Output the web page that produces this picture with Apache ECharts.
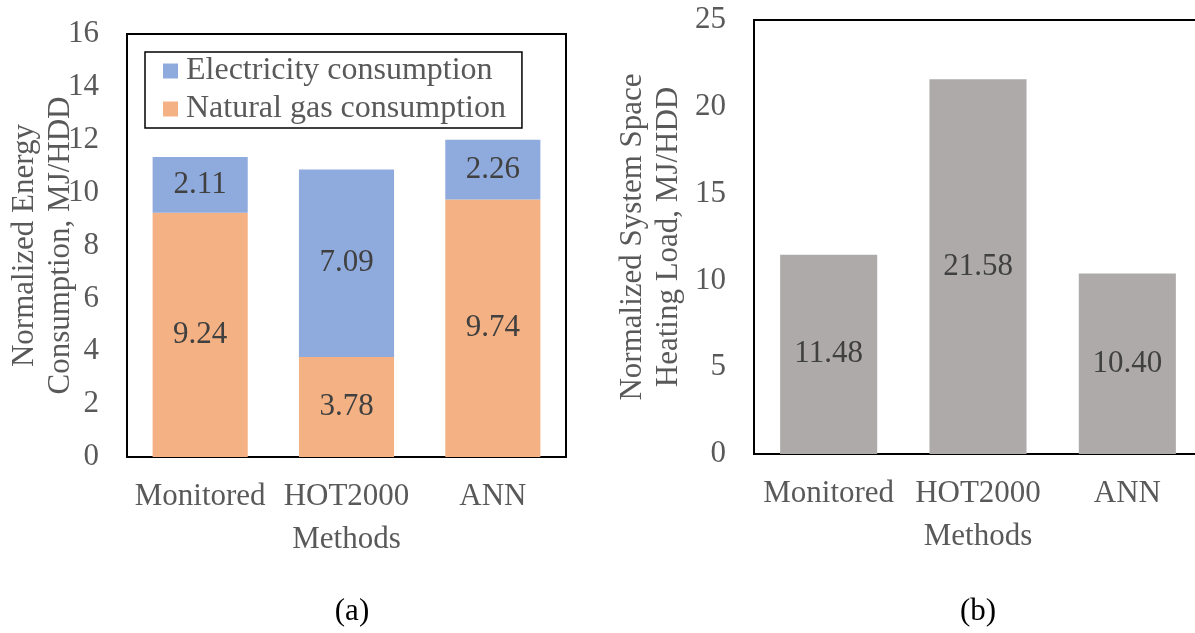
<!DOCTYPE html>
<html>
<head>
<meta charset="utf-8">
<script src="https://cdn.jsdelivr.net/npm/echarts@6/dist/echarts.min.js"></script>
<style>
  html, body { margin: 0; padding: 0; background: #fff; }
  #chart { width: 1195px; height: 633px; }
</style>
</head>
<body>
<div id="chart"></div>
<script>
// Methods compared in both panels
const methods = ['Monitored', 'HOT2000', 'ANN'];

// Panel (a): normalized energy consumption, MJ/HDD
const naturalGas = [9.24, 3.78, 9.74];
const electricity = [2.11, 7.09, 2.26];

// Panel (b): normalized system space heating load, MJ/HDD
const heatingLoad = [11.48, 21.58, 10.40];

const FONT = '"Liberation Serif", "Times New Roman", serif';
const FS = 31;
const AXIS_TEXT = '#595959';
const LABEL_TEXT = '#404040';

const tickLabel = {
  fontFamily: FONT, fontSize: FS, color: AXIS_TEXT, margin: 28
};
const catLabel = {
  fontFamily: FONT, fontSize: FS, color: AXIS_TEXT, margin: 25, lineHeight: 30,
  interval: 0, hideOverlap: false
};
const barLabel = {
  show: true, position: 'inside', fontFamily: FONT, fontSize: FS,
  color: LABEL_TEXT, formatter: p => p.value.toFixed(2)
};
const nameStyle = { fontFamily: FONT, fontSize: FS, color: AXIS_TEXT, lineHeight: 30 };

const chart = echarts.init(document.getElementById('chart'), null, { renderer: 'canvas' });

chart.setOption({
  animation: false,
  backgroundColor: '#fff',
  grid: [
    { left: 127, top: 34, width: 439, height: 423, show: true, outerBoundsMode: 'none',
      borderColor: '#000', borderWidth: 2, backgroundColor: 'transparent' },
    { left: 754, top: 20, width: 448, height: 434, show: true, outerBoundsMode: 'none',
      borderColor: '#000', borderWidth: 2, backgroundColor: 'transparent' }
  ],
  legend: {
    orient: 'vertical', left: 145, top: 52,
    data: ['Electricity consumption', 'Natural gas consumption'],
    itemWidth: 15, itemHeight: 15, itemGap: 6,
    padding: [3, 16, 3, 18],
    borderColor: '#000', borderWidth: 1.5,
    icon: 'rect',
    textStyle: { fontFamily: FONT, fontSize: 32, color: AXIS_TEXT, lineHeight: 30, padding: [0, 0, 0, 3] }
  },
  xAxis: [
    { type: 'category', gridIndex: 0, data: methods,
      axisLine: { show: false }, axisTick: { show: false },
      axisLabel: catLabel,
      name: 'Methods', nameLocation: 'middle', nameGap: 68, nameTextStyle: nameStyle },
    { type: 'category', gridIndex: 1, data: methods,
      axisLine: { show: false }, axisTick: { show: false },
      axisLabel: catLabel,
      name: 'Methods', nameLocation: 'middle', nameGap: 68, nameTextStyle: nameStyle }
  ],
  yAxis: [
    { type: 'value', gridIndex: 0, min: 0, max: 16, interval: 2,
      axisLine: { show: false }, axisTick: { show: false }, splitLine: { show: false },
      axisLabel: tickLabel,
      name: 'Normalized Energy\nConsumption, MJ/HDD', nameLocation: 'middle', nameRotate: 90,
      nameGap: 48, nameMoveOverlap: false,
      nameTextStyle: { fontFamily: FONT, fontSize: FS, color: AXIS_TEXT, lineHeight: 36 } },
    { type: 'value', gridIndex: 1, min: 0, max: 25, interval: 5,
      axisLine: { show: false }, axisTick: { show: false }, splitLine: { show: false },
      axisLabel: tickLabel,
      name: 'Normalized System Space\nHeating Load, MJ/HDD', nameLocation: 'middle', nameRotate: 90,
      nameGap: 67, nameMoveOverlap: false,
      nameTextStyle: { fontFamily: FONT, fontSize: FS, color: AXIS_TEXT, lineHeight: 36 } }
  ],
  series: [
    { name: 'Natural gas consumption', type: 'bar', stack: 'energy',
      xAxisIndex: 0, yAxisIndex: 0, data: naturalGas, barCategoryGap: '35%',
      itemStyle: { color: '#F4B183' }, label: barLabel },
    { name: 'Electricity consumption', type: 'bar', stack: 'energy',
      xAxisIndex: 0, yAxisIndex: 0, data: electricity, barCategoryGap: '35%',
      itemStyle: { color: '#8FAADC' }, label: barLabel },
    { name: 'Heating load', type: 'bar',
      xAxisIndex: 1, yAxisIndex: 1, data: heatingLoad, barCategoryGap: '35%',
      itemStyle: { color: '#AEAAAA' }, label: barLabel }
  ],
  graphic: [
    { type: 'text', x: 352, y: 612, style: { text: '(a)', font: FS + 'px ' + FONT,
      fill: '#000', textAlign: 'center', textVerticalAlign: 'middle' } },
    { type: 'text', x: 978, y: 612, style: { text: '(b)', font: FS + 'px ' + FONT,
      fill: '#000', textAlign: 'center', textVerticalAlign: 'middle' } }
  ]
});
</script>
</body>
</html>
